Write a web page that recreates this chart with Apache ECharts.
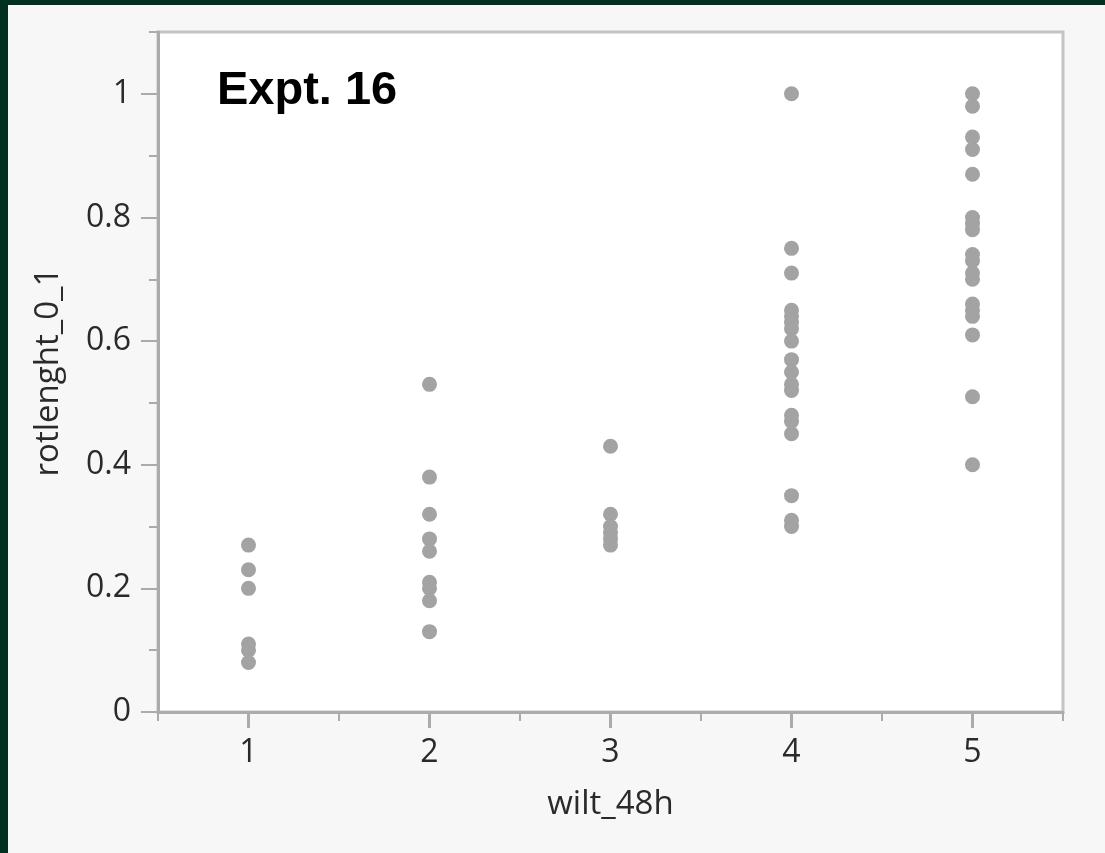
<!DOCTYPE html>
<html>
<head>
<meta charset="utf-8">
<script src="https://cdn.jsdelivr.net/npm/echarts@6/dist/echarts.min.js"></script>
<style>
  html, body { margin: 0; padding: 0; background: #00301f; }
  #chart {
    position: absolute;
    left: 8px;
    top: 5px;
    width: 1097px;
    height: 848px;
    background: #f7f7f7;
  }
</style>
</head>
<body>
<div id="chart"></div>
<script>
// rotlenght_0_1 values per wilt_48h score
const wilt1 = [0.27, 0.23, 0.20, 0.11, 0.10, 0.08]
const wilt2 = [0.53, 0.38, 0.32, 0.28, 0.26, 0.21, 0.20, 0.18, 0.13]
const wilt3 = [0.43, 0.32, 0.30, 0.29, 0.28, 0.27]
const wilt4 = [1.0, 0.75, 0.71, 0.65, 0.64, 0.63, 0.62, 0.60, 0.57, 0.55, 0.53, 0.52, 0.48, 0.47, 0.45, 0.35, 0.31, 0.30]
const wilt5 = [1.0, 0.98, 0.93, 0.91, 0.87, 0.80, 0.79, 0.78, 0.74, 0.73, 0.71, 0.70, 0.66, 0.65, 0.64, 0.61, 0.51, 0.40]

const xTicks = [1, 2, 3, 4, 5]
const xMinorTicks = [0.5, 1.5, 2.5, 3.5, 4.5, 5.5]
const yTicks = [0, 0.2, 0.4, 0.6, 0.8, 1]
const yMinorTicks = [0.1, 0.3, 0.5, 0.7, 0.9, 1.1]

const groups = [wilt1, wilt2, wilt3, wilt4, wilt5]
const points = []
groups.forEach((vals, i) => {
  vals.forEach(v => points.push([xTicks[i], v]))
})

const font = '"Open Sans", "Noto Sans", sans-serif'
const labelColor = '#2a2a2a'
const axisColor = '#ababab'

const chart = echarts.init(document.getElementById('chart'))
chart.setOption({
  animation: false,
  grid: {
    left: 150, top: 27, right: 42, bottom: 141,
    show: true,
    backgroundColor: '#ffffff',
    borderColor: '#c4c4c4',
    borderWidth: 3
  },
  title: {
    text: 'Expt. 16',
    left: 204,
    top: 58,
    textStyle: { fontFamily: '"Liberation Sans", Arial, sans-serif', fontWeight: 'bold', fontSize: 47, color: '#000' }
  },
  xAxis: [{
    type: 'value',
    min: 0.5,
    max: 5.5,
    name: 'wilt_48h',
    nameLocation: 'middle',
    nameGap: 76,
    nameTextStyle: { fontFamily: font, fontSize: 33, color: labelColor },
    axisLine: { lineStyle: { color: axisColor, width: 3 } },
    axisTick: { show: true, customValues: xTicks, length: 16, lineStyle: { color: axisColor, width: 3 } },
    axisLabel: { customValues: xTicks, margin: 25, fontFamily: font, fontSize: 32, color: labelColor },
    splitLine: { show: false }
  }, {
    type: 'value',
    min: 0.5,
    max: 5.5,
    position: 'bottom',
    axisLine: { show: false },
    axisTick: { show: true, customValues: xMinorTicks, length: 9, lineStyle: { color: axisColor, width: 2 } },
    axisLabel: { show: false },
    splitLine: { show: false }
  }],
  yAxis: [{
    type: 'value',
    min: 0,
    max: 1.1,
    name: 'rotlenght_0_1',
    nameLocation: 'middle',
    nameGap: 93,
    nameRotate: 90,
    nameTextStyle: { fontFamily: font, fontSize: 33, color: labelColor },
    axisLine: { show: true, lineStyle: { color: axisColor, width: 3 } },
    axisTick: { show: true, customValues: yTicks, length: 17, lineStyle: { color: axisColor, width: 2 } },
    axisLabel: { customValues: yTicks, margin: 27, fontFamily: font, fontSize: 32, color: labelColor },
    splitLine: { show: false }
  }, {
    type: 'value',
    min: 0,
    max: 1.1,
    position: 'left',
    axisLine: { show: false },
    axisTick: { show: true, customValues: yMinorTicks, length: 9, lineStyle: { color: axisColor, width: 2 } },
    axisLabel: { show: false },
    splitLine: { show: false }
  }],
  series: [{
    type: 'scatter',
    data: points,
    symbolSize: 15,
    itemStyle: { color: '#a3a3a3', opacity: 1 }
  }]
})
</script>
</body>
</html>
